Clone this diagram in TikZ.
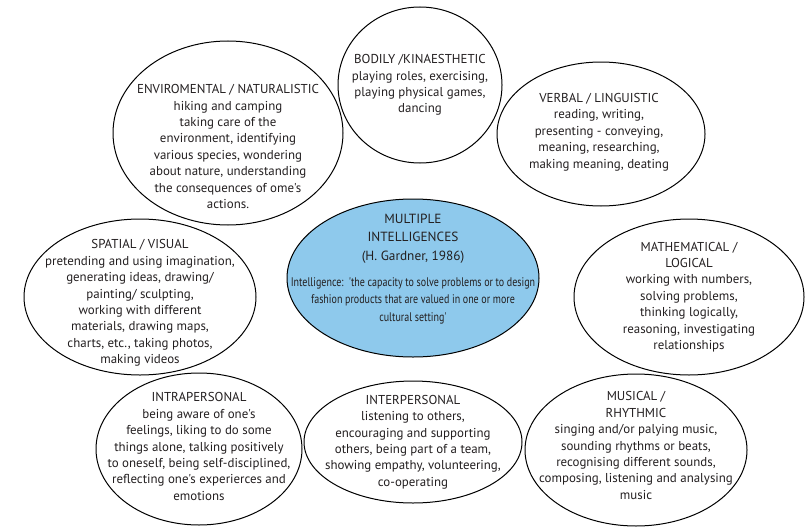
\documentclass[tikz,border=0pt]{standalone}
\usepackage{fontspec}
\setmainfont{PT Sans}[Ligatures=TeXOff]
\newfontfamily\condfont{PT Sans}[Ligatures=TeXOff,FakeStretch=0.8]
\usepackage{xcolor}
\usepackage{tikz}
\usetikzlibrary{shapes,positioning,calc}
\definecolor{miblue}{RGB}{142,201,236}
\definecolor{mitext}{RGB}{35,31,32}

\begin{document}
\begin{tikzpicture}[x=1pt,y=-1pt,
    bubble/.style={ellipse, draw=black, fill=white, line width=1pt, inner sep=0pt},
    blurb/.style={align=center, text=mitext, inner sep=0pt, font=\fontsize{12.9}{16.4}\selectfont}]
    \useasboundingbox (0,0) rectangle (810,527);

    % Outer bubbles
    \node[bubble, minimum width=230pt, minimum height=184pt] (env) at (228,133) {};
    \node[bubble, minimum width=164pt, minimum height=156pt] (body) at (420,85) {};
    \node[bubble, minimum width=208pt, minimum height=144pt] (verb) at (601,134) {};
    \node[bubble, minimum width=232pt, minimum height=156pt] (spat) at (140,297) {};
    \node[bubble, minimum width=230pt, minimum height=156pt] (math) at (689,297) {};
    \node[bubble, minimum width=206pt, minimum height=152pt] (intra) at (199,449) {};
    \node[bubble, minimum width=218pt, minimum height=122pt] (inter) at (413,442) {};
    \node[bubble, minimum width=222pt, minimum height=152pt] (mus) at (636,450) {};

    % Centre
    \node[bubble, fill=miblue, minimum width=252pt, minimum height=158pt] (mi) at (413,278) {};
    \node[blurb, font=\fontsize{13.3}{18.5}\selectfont] (mititle) at ($(mi)+(0,-39.5)$)
        {MULTIPLE\\INTELLIGENCES\\(H. Gardner, 1986)};
    \node[blurb, font=\condfont\fontsize{12.5}{17.5}\selectfont] (midef) at ($(mi)+(0,22.5)$)
        {Intelligence:\ \ 'the capacity to solve problems or to design\\fashion products that are valued in one or more\\cultural setting'};

    % Labels
    \node[blurb] (envtxt) at ($(env)+(0,13.5)$)
        {ENVIROMENTAL / NATURALISTIC\\hiking and camping\\taking care of the\\environment, identifying\\various species, wondering\\about nature, understanding\\the consequences of ome's\\actions.};
    \node[blurb] (bodytxt) at (body)
        {BODILY /KINAESTHETIC\\playing roles, exercising,\\playing physical games,\\dancing};
    \node[blurb] (verbtxt) at ($(verb)+(-2,-2)$)
        {VERBAL / LINGUISTIC\\reading, writing,\\presenting - conveying,\\meaning, researching,\\making meaning, deating};
    \node[blurb] (spattxt) at ($(spat)+(0,6)$)
        {SPATIAL / VISUAL\\pretending and using imagination,\\generating ideas, drawing/\\painting/ sculpting,\\working with different\\materials, drawing maps,\\charts, etc., taking photos,\\making videos};
    \node[blurb] (mathtxt) at (math)
        {MATHEMATICAL /\\LOGICAL\\working with numbers,\\solving problems,\\thinking logically,\\reasoning, investigating\\relationships};
    \node[blurb] (intratxt) at ($(intra)+(0,-2.5)$)
        {INTRAPERSONAL\\being aware of one's\\feelings, liking to do some\\things alone, talking positively\\to oneself, being self-disciplined,\\reflecting one's experierces and\\emotions};
    \node[blurb] (intertxt) at (inter)
        {INTERPERSONAL\\listening to others,\\encouraging and supporting\\others, being part of a team,\\showing empathy, volunteering,\\co-operating};
    \node[blurb] (mustxt) at ($(mus)+(0,-4.5)$)
        {MUSICAL /\\RHYTHMIC\\singing and/or palying music,\\sounding rhythms or beats,\\recognising different sounds,\\composing, listening and analysing\\music};

\end{tikzpicture}
\end{document}
